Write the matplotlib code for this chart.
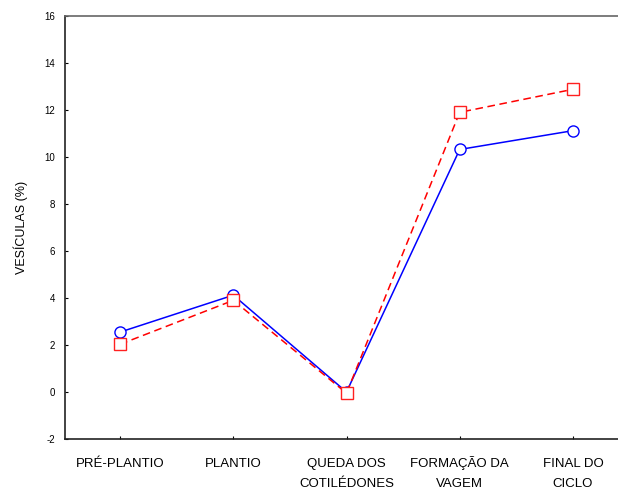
import numpy as np
import matplotlib
matplotlib.use("Agg")
import matplotlib.pyplot as plt
import matplotlib.transforms as mtransforms

plt.rcParams['font.family'] = ['Liberation Sans', 'DejaVu Sans']
plt.rcParams['axes.unicode_minus'] = False

# data
stages = ["PRÉ-PLANTIO", "PLANTIO", "QUEDA DOS\nCOTILÉDONES", "FORMAÇÃO DA\nVAGEM", "FINAL DO\nCICLO"]
serie_circulo = [2.55, 4.12, 0.0, 10.32, 11.12]
serie_quadrado = [2.03, 3.90, -0.05, 11.90, 12.88]

x = np.arange(len(stages))

fig = plt.figure(figsize=(6.18, 4.94), dpi=100)
W, H = 618.0, 494.0
# axes box in pixel coords (right edge goes past the figure, as in the original)
left, top, bottom, right = 65, 16, 439, 628
ax = fig.add_axes([left / W, (H - bottom) / H, (right - left) / W, (bottom - top) / H])

ax.plot(x, serie_circulo, color='#0000ff', linewidth=1.1, marker='o', markersize=8,
        markerfacecolor='white', markeredgecolor='#0000ff', markeredgewidth=1.0)
ax.plot(x, serie_quadrado, color='#ff0000', linewidth=1.1, linestyle=(0, (5, 3)), marker='s',
        markersize=8, markerfacecolor='white', markeredgecolor='#ff2020', markeredgewidth=1.0)

ax.set_xlim(-0.487, 4.487)
ax.set_ylim(-2, 16)
ax.set_yticks(np.arange(-2, 17, 2))
ax.set_xticks(x)
ax.set_xticklabels([])
ax.tick_params(axis='y', labelsize=7, direction='in', length=2.5, pad=7)
ax.tick_params(axis='x', direction='in', length=2.5)

# x labels written line by line so every first line sits on the same baseline
base = mtransforms.blended_transform_factory(ax.transData, ax.transAxes)
for xi, lab in zip(x, stages):
    for j, line in enumerate(lab.split("\n")):
        dy = -(20.2 + 14.0 * j) / 72.0
        tr = base + mtransforms.ScaledTranslation(0, dy, fig.dpi_scale_trans)
        ax.text(xi, 0, line, transform=tr, ha='center', va='baseline', fontsize=9.5, clip_on=False)

for s in ax.spines.values():
    s.set_linewidth(1.2)
    s.set_color('#222222')
ax.spines['top'].set_color('#666666')

ax.set_ylabel("VESÍCULAS (%)", fontsize=9, labelpad=12)

fig.savefig("out.png", dpi=100)
